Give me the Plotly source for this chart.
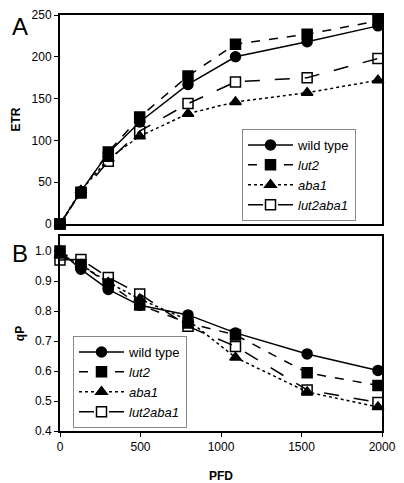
import plotly.graph_objects as go

pfd = [0, 130, 300, 495, 795, 1090, 1535, 1975]
names = ["wild type", "<i>lut2</i>", "<i>aba1</i>", "<i>lut2aba1</i>"]
etr = {
    "wt": [0, 39, 85, 122, 167, 200, 218, 237],
    "lut2": [0, 38, 86, 128, 177, 215, 227, 243],
    "aba1": [0, 40, 78, 105, 132, 146, 157, 172],
    "lut2aba1": [0, 37, 75, 111, 144, 170, 175, 198],
}
qp = {
    "wt": [1.0, 0.939, 0.872, 0.819, 0.787, 0.727, 0.657, 0.602],
    "lut2": [1.0, 0.955, 0.89, 0.82, 0.76, 0.72, 0.594, 0.552],
    "aba1": [0.985, 0.955, 0.895, 0.84, 0.77, 0.645, 0.53, 0.48],
    "lut2aba1": [0.97, 0.972, 0.912, 0.857, 0.749, 0.682, 0.537, 0.495],
}
keys = ["wt", "lut2", "aba1", "lut2aba1"]
dashes = ["solid", "dash", "dot", "longdash"]
symbols = ["circle", "square", "triangle-up", "square-open"]

# page body has an 8px margin; figure is sized to fit inside it
OFF = 8
W, H = 404 - OFF, 483 - OFF


def px(x):
    return (x - OFF) / W


def py(y):
    return 1 - (y - OFF) / H


fig = go.Figure()
for i, k in enumerate(keys):
    fig.add_trace(go.Scatter(
        x=pfd, y=etr[k], name=names[i], mode="lines+markers",
        line=dict(color="black", width=1.5, dash=dashes[i]),
        marker=dict(symbol=symbols[i], size=10, color="black",
                    line=dict(color="black", width=1.5)),
        xaxis="x", yaxis="y", legend="legend", cliponaxis=False))
for i, k in enumerate(keys):
    fig.add_trace(go.Scatter(
        x=pfd, y=qp[k], name=names[i], mode="lines+markers",
        line=dict(color="black", width=1.5, dash=dashes[i]),
        marker=dict(symbol=symbols[i], size=10, color="black",
                    line=dict(color="black", width=1.5)),
        xaxis="x2", yaxis="y2", legend="legend2", cliponaxis=False))

font = dict(family="Liberation Sans, Arial, sans-serif", size=12, color="black")
xd = [px(60), px(382)]
axcommon = dict(showline=True, linecolor="black", linewidth=2, mirror=True,
                showgrid=False, zeroline=False, ticks="outside", ticklen=4,
                tickcolor="black", tickfont=dict(size=12), automargin=False)
fig.update_layout(
    width=W, height=H, margin=dict(l=0, r=0, t=0, b=0, autoexpand=False),
    paper_bgcolor="white", plot_bgcolor="white", font=font,
    xaxis=dict(domain=xd, range=[0, 2000], anchor="y", showticklabels=False,
               **{**axcommon, "ticks": ""}),
    yaxis=dict(domain=[py(224), py(15)], range=[0, 250],
               tickvals=[0, 50, 100, 150, 200, 250], anchor="x",
               title=dict(text="<b>ETR</b>", standoff=8, font=dict(size=12)), **axcommon),
    xaxis2=dict(domain=xd, range=[0, 2000], anchor="y2",
                tickvals=[0, 500, 1000, 1500, 2000],
                title=dict(text="<b>PFD</b>", standoff=18, font=dict(size=12)), **axcommon),
    yaxis2=dict(domain=[py(431), py(236)], range=[0.4, 1.05],
                tickvals=[0.4, 0.5, 0.6, 0.7, 0.8, 0.9, 1.0], tickformat=".1f", anchor="x2",
                title=dict(text="<b>qP</b>", standoff=8, font=dict(size=12)), **axcommon),
    legend=dict(x=px(242), y=py(129), xanchor="left", yanchor="top",
                bgcolor="white", bordercolor="#888888", borderwidth=1,
                font=dict(size=13), tracegroupgap=0, itemwidth=45),
    legend2=dict(x=px(73), y=py(336), xanchor="left", yanchor="top",
                 bgcolor="white", bordercolor="#888888", borderwidth=1,
                 font=dict(size=13), tracegroupgap=0, itemwidth=45),
    annotations=[
        dict(text="A", x=px(10), y=py(26), xref="paper", yref="paper",
             xanchor="left", yanchor="middle", showarrow=False, font=dict(size=24)),
        dict(text="B", x=px(10), y=py(253), xref="paper", yref="paper",
             xanchor="left", yanchor="middle", showarrow=False, font=dict(size=24)),
    ],
)
fig.write_html("out.html")
